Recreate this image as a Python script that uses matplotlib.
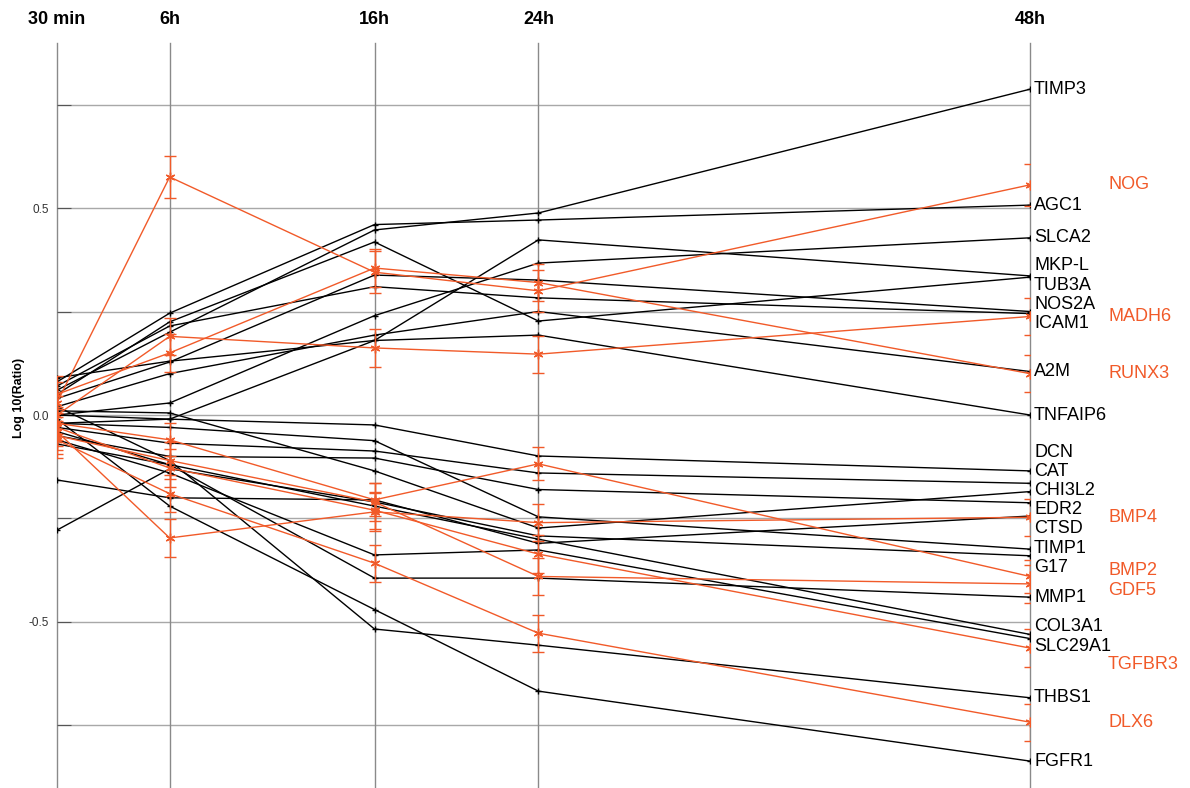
import matplotlib
matplotlib.use("Agg")
import matplotlib.pyplot as plt
import matplotlib.transforms as mtransforms
import numpy as np

plt.rcParams.update({"font.family": ["Liberation Sans", "DejaVu Sans"]})

# Tiempos de muestreo (horas) y etiquetas de columna
times = [0.5, 6, 16, 24, 48]
time_labels = ["30 min", "6h", "16h", "24h", "48h"]

# Genes en negro: log10(ratio) en 30 min, 6h, 16h, 24h, 48h
black_genes = ["TIMP3", "AGC1", "SLCA2", "MKP-L", "TUB3A", "NOS2A", "ICAM1",
               "A2M", "TNFAIP6", "DCN", "CAT", "CHI3L2", "EDR2", "CTSD",
               "TIMP1", "G17", "MMP1", "COL3A1", "SLC29A1", "THBS1", "FGFR1"]
black_vals = [
    [0.06, 0.20, 0.447, 0.488, 0.787],
    [0.08, 0.246, 0.46, 0.471, 0.507],
    [0.00, 0.029, 0.24, 0.367, 0.428],
    [-0.02, -0.01, 0.18, 0.423, 0.336],
    [0.05, 0.225, 0.418, 0.227, 0.333],
    [0.04, 0.128, 0.338, 0.326, 0.25],
    [0.07, 0.215, 0.31, 0.283, 0.245],
    [0.02, 0.10, 0.193, 0.25, 0.105],
    [0.09, 0.13, 0.18, 0.193, 0.0],
    [0.00, -0.01, -0.024, -0.099, -0.135],
    [-0.03, -0.068, -0.087, -0.14, -0.165],
    [0.01, 0.005, -0.135, -0.273, -0.185],
    [-0.05, -0.10, -0.104, -0.18, -0.212],
    [-0.157, -0.20, -0.205, -0.31, -0.244],
    [-0.02, -0.03, -0.062, -0.246, -0.324],
    [-0.278, -0.13, -0.21, -0.292, -0.34],
    [-0.07, -0.12, -0.394, -0.394, -0.44],
    [-0.04, -0.12, -0.22, -0.30, -0.53],
    [-0.06, -0.14, -0.338, -0.326, -0.54],
    [0.02, -0.11, -0.517, -0.556, -0.683],
    [-0.01, -0.22, -0.47, -0.667, -0.836],
]

# Genes en naranja (con barras de error)
orange_genes = ["NOG", "MADH6", "RUNX3", "BMP4", "BMP2", "GDF5", "TGFBR3", "DLX6"]
orange_vals = [
    [0.03, 0.575, 0.345, 0.30, 0.556],
    [0.00, 0.19, 0.162, 0.147, 0.238],
    [0.05, 0.15, 0.355, 0.32, 0.10],
    [-0.04, -0.297, -0.234, -0.26, -0.247],
    [-0.02, -0.06, -0.205, -0.118, -0.39],
    [-0.05, -0.11, -0.21, -0.39, -0.408],
    [-0.03, -0.128, -0.23, -0.336, -0.563],
    [-0.06, -0.19, -0.358, -0.527, -0.742],
]
orange_err = [0.05, 0.045, 0.045, 0.045, 0.04, 0.045, 0.045, 0.045]

ORANGE = "#f15a29"


def spread(values, gap, n_iter=200):
    """Separa posiciones de etiquetas que se solapan, empujando a ambos lados."""
    order = np.argsort(values)[::-1]
    pos = np.array(values, dtype=float)[order]
    for _ in range(n_iter):
        moved = False
        for i in range(len(pos) - 1):
            d = pos[i] - pos[i + 1]
            if d < gap:
                shift = (gap - d) / 2
                pos[i] += shift
                pos[i + 1] -= shift
                moved = True
        if not moved:
            break
    out = np.empty_like(pos)
    out[order] = pos
    return out


fig = plt.figure(figsize=(11.9, 7.88), dpi=100)
ax = fig.add_axes([57 / 1190, 0, (1030 - 57) / 1190, (788 - 43) / 788])
ax.set_xlim(0.5, 48)
ax.set_ylim(-0.901, 0.8986)
for s in ax.spines.values():
    s.set_visible(False)

# rejilla: horizontales cada 0.25, verticales en cada tiempo
for yv in [-0.75, -0.5, -0.25, 0, 0.25, 0.5, 0.75]:
    ax.axhline(yv, color="#a8a8a8", lw=1, zorder=0)
for t in times:
    ax.axvline(t, color="#8a8a8a", lw=1, zorder=0, clip_on=False)

for vals in black_vals:
    ax.plot(times, vals, color="black", lw=1, marker="+", ms=4, mew=1, zorder=2)
for vals, err in zip(orange_vals, orange_err):
    ax.errorbar(times, vals, yerr=err, color=ORANGE, lw=1, elinewidth=1,
                capsize=4, marker=(6, 2, 0), ms=7, mew=1, zorder=3)

# etiquetas de genes a la derecha
black_pos = spread([v[-1] for v in black_vals], 0.046)
orange_pos = spread([v[-1] for v in orange_vals], 0.048)
tr_black = mtransforms.offset_copy(ax.transData, fig=fig, x=4, y=0, units="dots")
tr_orange = mtransforms.offset_copy(ax.transData, fig=fig, x=78, y=0, units="dots")
black_txt = [ax.text(48, yp, name, transform=tr_black, fontsize=13, color="black",
                     va="center", ha="left", clip_on=False)
             for name, yp in zip(black_genes, black_pos)]
orange_txt = [ax.text(48, yp, name, transform=tr_orange, fontsize=13, color=ORANGE,
                      va="center", ha="left", clip_on=False)
              for name, yp in zip(orange_genes, orange_pos)]

# si una etiqueta naranja choca con un nombre negro largo, se baja un poco
fig.canvas.draw()
renderer = fig.canvas.get_renderer()
for t in orange_txt:
    for _ in range(40):
        bb = t.get_window_extent(renderer).expanded(1.0, 0.9)
        if not any(bb.overlaps(b.get_window_extent(renderer)) for b in black_txt):
            break
        x, y = t.get_position()
        t.set_position((x, y - 0.01))

# ejes
ax.set_yticks([-0.75, -0.5, -0.25, 0, 0.25, 0.5, 0.75])
ax.set_yticklabels(["", "-0.5", "", "0.0", "", "0.5", ""])
ax.tick_params(axis="y", direction="in", length=10, color="#555555",
               labelsize=8.5, labelcolor="#333333", pad=6)
ax.xaxis.tick_top()
ax.set_xticks(times)
ax.set_xticklabels(time_labels, fontsize=13, fontweight="bold")
ax.tick_params(axis="x", length=0, pad=11)
ax.set_ylabel("Log 10(Ratio)", fontsize=9, fontweight="bold")
ax.yaxis.set_label_coords(-0.033, 0.523)

fig.savefig("out.png", dpi=100)
